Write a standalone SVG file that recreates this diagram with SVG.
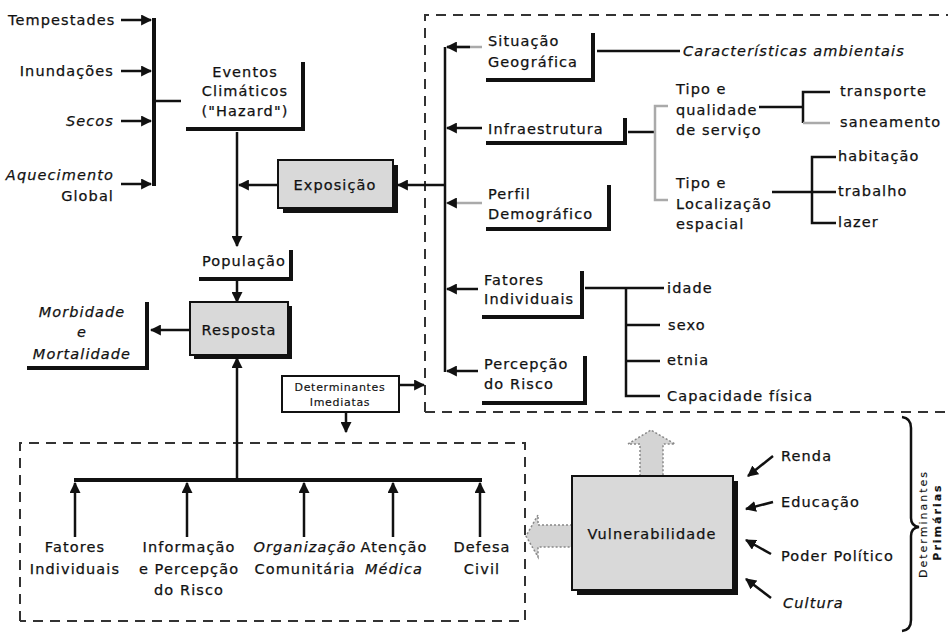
<svg xmlns="http://www.w3.org/2000/svg" width="948" height="633" viewBox="0 0 948 633">
<defs>
<style>
text{font-family:"DejaVu Sans","Liberation Sans",sans-serif;font-size:14.5px;fill:#111;letter-spacing:1.1px;stroke:#111;stroke-width:0.25px}
.c{text-anchor:middle}
.i{font-style:italic}
.b{font-weight:bold}
.sm{font-size:11px;letter-spacing:0.7px;stroke-width:0.15px}
.rt{font-size:11px;letter-spacing:2px;stroke-width:0.15px}
.ln{stroke:#111;stroke-width:2.5;fill:none}
.th{stroke:#111;stroke-width:4;fill:none}
.gr{stroke:#aaa;stroke-width:2.5;fill:none}
.dash{stroke:#333;stroke-width:2;fill:none;stroke-dasharray:10 7}
.box{fill:#d9d9d9;stroke:#111;stroke-width:2}
.sh{fill:#111}
.blk{fill:#d4d4d4;stroke:#888;stroke-width:1.5;stroke-dasharray:2 2}
</style>
<marker id="ah" viewBox="0 0 10 10" refX="9" refY="5" markerWidth="11" markerHeight="11" markerUnits="userSpaceOnUse" orient="auto"><path d="M0,0 L10,5 L0,10 z" fill="#111"/></marker>
</defs>
<rect width="948" height="633" fill="#fff"/>

<g id="regions">
<path class="dash" d="M425,412 V15 H948"/>
<path class="dash" d="M425,412 H948"/>
<path class="dash" d="M20,621 V443 H525 V621 H20"/>
</g>

<g id="connectors">
<line class="ln" x1="121" y1="20" x2="151" y2="20" marker-end="url(#ah)"/>
<line class="ln" x1="121" y1="71" x2="151" y2="71" marker-end="url(#ah)"/>
<line class="ln" x1="121" y1="121" x2="151" y2="121" marker-end="url(#ah)"/>
<line class="ln" x1="121" y1="184" x2="151" y2="184" marker-end="url(#ah)"/>
<path class="th" d="M154,18 V186"/>
<line class="ln" x1="154" y1="101" x2="181" y2="101"/>
<line class="ln" x1="237" y1="132" x2="237" y2="246" marker-end="url(#ah)"/>
<line class="ln" x1="278" y1="185" x2="239" y2="185" marker-end="url(#ah)"/>
<line class="ln" x1="445" y1="47" x2="445" y2="372"/>
<line class="ln" x1="445" y1="185" x2="398" y2="185" marker-end="url(#ah)"/>
<line class="gr" x1="482" y1="47" x2="447" y2="47"/>
<line class="ln" x1="470" y1="47" x2="447" y2="47" marker-end="url(#ah)"/>
<line class="ln" x1="482" y1="128" x2="447" y2="128" marker-end="url(#ah)"/>
<line class="gr" x1="482" y1="203" x2="447" y2="203" marker-end="url(#ah)"/>
<line class="ln" x1="478" y1="289" x2="447" y2="289" marker-end="url(#ah)"/>
<line class="ln" x1="478" y1="371" x2="447" y2="371" marker-end="url(#ah)"/>
<line class="ln" x1="597" y1="51" x2="680" y2="51"/>
<line class="ln" x1="628" y1="132" x2="655" y2="132"/>
<path class="gr" d="M668,106 H655 V200 H668"/>
<line class="ln" x1="759" y1="107" x2="803" y2="107"/>
<path class="ln" d="M830,92 H803 V123"/>
<line class="gr" x1="803" y1="123" x2="830" y2="123"/>
<line class="ln" x1="772" y1="192" x2="836" y2="192"/>
<path class="ln" d="M836,157 H812 V223 H836"/>
<line class="ln" x1="585" y1="288" x2="664" y2="288"/>
<path class="ln" d="M626,288 V396 H660"/>
<line class="ln" x1="626" y1="325" x2="660" y2="325"/>
<line class="ln" x1="626" y1="361" x2="660" y2="361"/>
<line class="ln" x1="237" y1="281" x2="237" y2="302" marker-end="url(#ah)"/>
<line class="ln" x1="190" y1="330" x2="151" y2="330" marker-end="url(#ah)"/>
<line class="ln" x1="237" y1="480" x2="237" y2="358" marker-end="url(#ah)"/>
<line class="ln" x1="399" y1="385" x2="424" y2="385" marker-end="url(#ah)"/>
<line class="ln" x1="346" y1="412" x2="346" y2="432" marker-end="url(#ah)"/>
<line class="th" x1="74" y1="480" x2="482" y2="480"/>
<line class="ln" x1="75" y1="537" x2="75" y2="483" marker-end="url(#ah)"/>
<line class="ln" x1="187" y1="537" x2="187" y2="483" marker-end="url(#ah)"/>
<line class="ln" x1="304" y1="537" x2="304" y2="483" marker-end="url(#ah)"/>
<line class="ln" x1="393" y1="537" x2="393" y2="483" marker-end="url(#ah)"/>
<line class="ln" x1="480" y1="537" x2="480" y2="483" marker-end="url(#ah)"/>
<line class="ln" x1="773" y1="456" x2="748" y2="476" marker-end="url(#ah)"/>
<line class="ln" x1="773" y1="502" x2="746" y2="509" marker-end="url(#ah)"/>
<line class="ln" x1="771" y1="554" x2="746" y2="540" marker-end="url(#ah)"/>
<line class="ln" x1="771" y1="598" x2="746" y2="579" marker-end="url(#ah)"/>
<path class="ln" stroke-width="2" d="M902,417 Q911,418 911,428 V518 Q911,526 919,527 Q911,528 911,536 V620 Q911,630 902,631"/>
</g>

<g id="hazards">
<text x="8" y="25">Tempestades</text>
<text x="114" y="76" text-anchor="end">Inundações</text>
<text x="114" y="126" text-anchor="end" class="i">Secos</text>
<text x="114" y="180" text-anchor="end" class="i">Aquecimento</text>
<text x="114" y="201" text-anchor="end">Global</text>
</g>

<g id="eventos">
<text class="c" x="245" y="77">Eventos</text>
<text class="c" x="245" y="96">Climáticos</text>
<text class="c" x="245" y="116">("Hazard")</text>
<path class="th" d="M186,129 H303 V62"/>
</g>

<g id="exposicao">
<rect class="sh" x="283" y="165" width="115" height="48"/>
<rect class="box" x="278" y="160" width="115" height="48"/>
<text class="c" x="335" y="190">Exposição</text>
</g>

<g id="populacao">
<text class="c" x="244" y="266">População</text>
<path class="th" d="M199,279 H291 V250"/>
</g>

<g id="resposta">
<rect class="sh" x="194" y="306" width="98" height="53"/>
<rect class="box" x="190" y="302" width="98" height="53"/>
<text class="c" x="239" y="335">Resposta</text>
</g>

<g id="morbidade">
<text class="c i" x="82" y="317">Morbidade</text>
<text class="c i" x="82" y="337">e</text>
<text class="c i" x="82" y="359">Mortalidade</text>
<path class="th" d="M27,368 H147 V302"/>
</g>

<g id="determinantes-imediatas">
<rect x="282" y="376" width="117" height="36" fill="#fff" stroke="#111" stroke-width="2"/>
<text class="c sm" x="340" y="391">Determinantes</text>
<text class="c sm" x="340" y="406">Imediatas</text>
</g>

<g id="situacao">
<text x="488" y="46">Situação</text>
<text x="488" y="67">Geográfica</text>
<path class="th" d="M486,80 H593 V33"/>
</g>
<g id="caracteristicas"><text class="i" x="683" y="56">Características ambientais</text></g>

<g id="infraestrutura">
<text x="488" y="134">Infraestrutura</text>
<path class="th" d="M486,143 H625 V118"/>
</g>
<g id="tipo-qualidade">
<text x="676" y="94">Tipo e</text>
<text x="676" y="115">qualidade</text>
<text x="676" y="135">de serviço</text>
</g>
<g id="transporte"><text x="840" y="96">transporte</text></g>
<g id="saneamento"><text x="840" y="127">saneamento</text></g>
<g id="tipo-localizacao">
<text x="676" y="188">Tipo e</text>
<text x="676" y="209">Localização</text>
<text x="676" y="229">espacial</text>
</g>
<g id="habitacao"><text x="838" y="161">habitação</text></g>
<g id="trabalho"><text x="838" y="196">trabalho</text></g>
<g id="lazer"><text x="838" y="227">lazer</text></g>

<g id="perfil">
<text x="488" y="199">Perfil</text>
<text x="488" y="219">Demográfico</text>
<path class="th" d="M486,229 H609 V185"/>
</g>

<g id="fatores-individuais">
<text x="484" y="285">Fatores</text>
<text x="484" y="304">Individuais</text>
<path class="th" d="M482,317 H582 V271"/>
</g>
<g id="idade"><text x="667" y="293">idade</text></g>
<g id="sexo"><text x="668" y="330">sexo</text></g>
<g id="etnia"><text x="667" y="365">etnia</text></g>
<g id="capacidade"><text x="667" y="401">Capacidade física</text></g>

<g id="percepcao">
<text x="484" y="369">Percepção</text>
<text x="484" y="389">do Risco</text>
<path class="th" d="M482,403 H585 V356"/>
</g>

<g id="b-fatores"><text class="c" x="75" y="552">Fatores</text><text class="c" x="75" y="574">Individuais</text></g>
<g id="b-informacao"><text class="c" x="189" y="552">Informação</text><text class="c" x="189" y="574">e Percepção</text><text class="c" x="189" y="595">do Risco</text></g>
<g id="b-organizacao"><text class="c i" x="305" y="552">Organização</text><text class="c" x="305" y="574">Comunitária</text></g>
<g id="b-atencao"><text class="c" x="394" y="552">Atenção</text><text class="c i" x="394" y="574">Médica</text></g>
<g id="b-defesa"><text class="c" x="482" y="552">Defesa</text><text class="c" x="482" y="574">Civil</text></g>

<g id="vulnerabilidade">
<path class="blk" d="M640,476 V444 H628 L651,430 L675,444 H663 V476 Z"/>
<path class="blk" d="M572,525 H538 V515 L526,536 L538,557 V547 H572 Z"/>
<rect class="sh" x="577" y="481" width="161" height="114"/>
<rect class="box" x="572" y="476" width="161" height="114"/>
<text class="c" x="652" y="539">Vulnerabilidade</text>
</g>

<g id="renda"><text x="781" y="461">Renda</text></g>
<g id="educacao"><text x="781" y="507">Educação</text></g>
<g id="poder"><text x="781" y="561">Poder Político</text></g>
<g id="cultura"><text class="i" x="783" y="608">Cultura</text></g>

<g id="determinantes-primarias">
<text class="c rt" transform="translate(927,524) rotate(-90)">Determinantes</text>
<text class="c rt b" transform="translate(941,522) rotate(-90)">Primárias</text>
</g>
</svg>
